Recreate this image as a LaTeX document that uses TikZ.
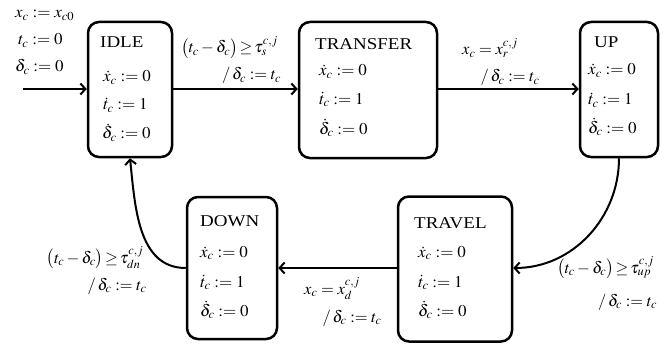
\documentclass[tikz,border=0pt]{standalone}
\usepackage{mathptmx}
\usepackage[no-math]{fontspec}
\setmainfont{Liberation Serif}
\usepackage{graphicx}
\usetikzlibrary{arrows.meta}
\newcommand{\sx}[1]{\scalebox{1.15}[1]{#1}}
\newcommand{\mx}[1]{\scalebox{1.03}[1]{#1}}
\begin{document}
\begin{tikzpicture}[x=1pt,y=-1pt,
  box/.style={draw, line width=2.5pt, rounded corners=11pt, inner sep=0pt},
  txt/.style={inner sep=0pt, anchor=base west, font=\fontsize{16.5}{20}\selectfont},
  lbl/.style={inner sep=0pt, anchor=base, font=\fontsize{16.5}{20}\selectfont},
  arr/.style={line width=2pt, -{Straight Barb[length=5pt,width=11pt]}}]
\useasboundingbox (0,0) rectangle (670,345);
% boxes
\node[box, minimum width=84pt, minimum height=135pt] (idle) at (130,89.5) {};
\node[box, minimum width=138pt, minimum height=136pt] (transfer) at (368,90) {};
\node[box, minimum width=78pt, minimum height=135pt] (up) at (619,89.5) {};
\node[box, minimum width=90pt, minimum height=142pt] (down) at (232,268) {};
\node[box, minimum width=114pt, minimum height=145pt] (travel) at (455,269) {};
% box contents
\node[txt] (idleT) at (100,48) {\sx{IDLE}};
\node[txt] (idleA) at (103,82) {\mx{$\dot{x}_c := 0$}};
\node[txt] (idleB) at (103,110) {\mx{$\dot{t}_c := 1$}};
\node[txt] (idleC) at (102,139) {\mx{$\dot{\delta}_c := 0$}};
\node[txt] (trT) at (315,50) {\sx{TRANSFER}};
\node[txt] (trA) at (319,76) {\mx{$\dot{x}_c := 0$}};
\node[txt] (trB) at (319,104) {\mx{$\dot{t}_c := 1$}};
\node[txt] (trC) at (319,134) {\mx{$\dot{\delta}_c := 0$}};
\node[txt] (upT) at (594,48) {\sx{UP}};
\node[txt] (upA) at (588,75) {\mx{$\dot{x}_c := 0$}};
\node[txt] (upB) at (588,105) {\mx{$\dot{t}_c := 1$}};
\node[txt] (upC) at (588,133) {\mx{$\dot{\delta}_c := 0$}};
\node[txt] (dnT) at (200,226) {\sx{DOWN}};
\node[txt] (dnA) at (200,257) {\mx{$\dot{x}_c := 0$}};
\node[txt] (dnB) at (200,287) {\mx{$\dot{t}_c := 1$}};
\node[txt] (dnC) at (200,316) {\mx{$\dot{\delta}_c := 0$}};
\node[txt] (tvT) at (414,228) {\sx{TRAVEL}};
\node[txt] (tvA) at (418,257) {\mx{$\dot{x}_c := 0$}};
\node[txt] (tvB) at (418,287) {\mx{$\dot{t}_c := 1$}};
\node[txt] (tvC) at (418,316) {\mx{$\dot{\delta}_c := 0$}};
% initial
\coordinate (init) at (23,89);
\node[txt] (i1) at (15,18) {\mx{$x_c := x_{c0}$}};
\node[txt] (i2) at (18,45) {\mx{$t_c := 0$}};
\node[txt] (i3) at (15,72) {\mx{$\delta_c := 0$}};
% connectors
\draw[arr] (init) -- (idle.west |- init);
\draw[arr] (idle.east |- init) -- (transfer.west |- init);
\draw[arr] (transfer.east |- init) -- (up.west |- init);
\draw[arr] (up.south) to[out=-90,in=0] (travel.east |- down.east);
\draw[arr] (travel.west |- down.east) -- (down.east);
\draw[arr] (down.west) to[out=180,in=-84] (idle.south);
% labels
\node[lbl] (l1a) at (229.5,53) {$\bigl(t_c-\delta_c\bigr)\!\geq\!\tau_s^{c,j}$};
\node[lbl] (l1b) at (251.5,80) {$/\,\delta_c := t_c$};
\node[lbl] (l2a) at (490,55) {$x_c = x_r^{c,j}$};
\node[lbl] (l2b) at (510,82) {$/\,\delta_c := t_c$};
\node[lbl] (l3a) at (605.5,273) {$\bigl(t_c-\delta_c\bigr)\!\geq\!\tau_{up}^{c,j}$};
\node[lbl] (l3b) at (627.5,306) {$/\,\delta_c := t_c$};
\node[lbl] (l4a) at (332,294) {$x_c = x_d^{c,j}$};
\node[lbl] (l4b) at (352,322) {$/\,\delta_c := t_c$};
\node[lbl] (l5a) at (95,263) {$\bigl(t_c-\delta_c\bigr)\!\geq\!\tau_{dn}^{c,j}$};
\node[lbl] (l5b) at (117,290) {$/\,\delta_c := t_c$};
\end{tikzpicture}
\end{document}
